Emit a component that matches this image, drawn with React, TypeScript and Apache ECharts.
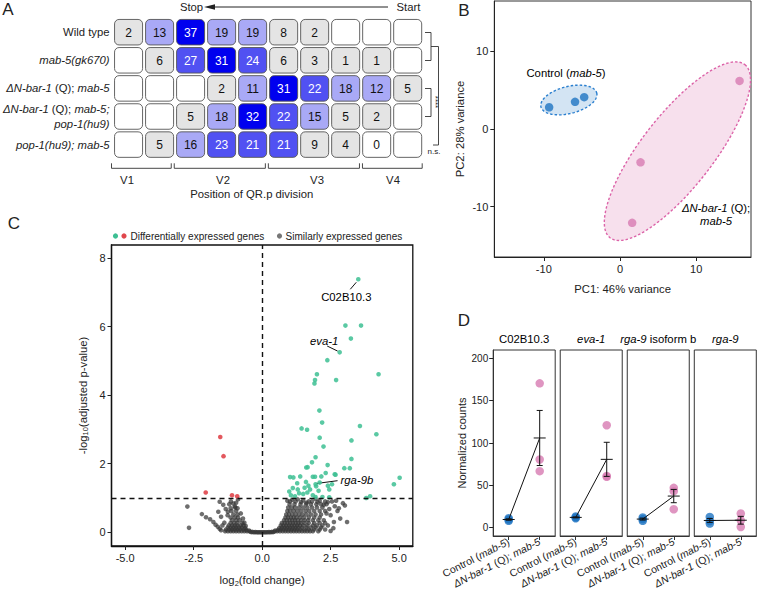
import React, { useEffect, useRef } from 'react';
import * as echarts from 'echarts';

const FONT = '"Liberation Sans", Arial, Helvetica, sans-serif';
const INK = '#222';
const BLUE = '#1f74c2';
const PINK = '#d77ab1';

// ---------------- Panel A: position of QR.p division ----------------
const rowNames = ['Wild type', 'mab-5(gk670)', 'ΔN-bar-1 (Q); mab-5', 'ΔN-bar-1 (Q); mab-5; pop-1(hu9)', 'pop-1(hu9); mab-5'];
const rowLabelRich = [
  '{n|Wild type}',
  '{i|mab-5(gk670)}',
  '{i|ΔN-bar-1}{n| (Q); }{i|mab-5}',
  '{i|ΔN-bar-1}{n| (Q); }{i|mab-5;}\n{i|pop-1(hu9)}',
  '{i|pop-1(hu9); mab-5}',
];
const divisionPositions = ['1', '2', '3', '4', '5', '6', '7', '8', '9', '10'];
const wildTypeCounts = [2, 13, 37, 19, 19, 8, 2, null, null, null];
const mab5Counts = [null, 6, 27, 31, 24, 6, 3, 1, 1, null];
const dNbar1Mab5Counts = [null, null, null, 2, 11, 31, 22, 18, 12, 5];
const dNbar1Mab5Pop1Counts = [null, null, 5, 18, 32, 22, 15, 5, 2, null];
const pop1Mab5Counts = [null, 5, 16, 23, 21, 21, 9, 4, 0, null];
const cellRows = [wildTypeCounts, mab5Counts, dNbar1Mab5Counts, dNbar1Mab5Pop1Counts, pop1Mab5Counts];
const vCellLabels = ['V1', 'V2', 'V3', 'V4'];
const vCellSpans = [[0, 1], [2, 4], [5, 7], [8, 9]];

// ---------------- Panel B: PCA ----------------
const pc1Control = [-9.3, -5.9, -4.7];
const pc2Control = [2.8, 3.5, 4.1];
const pc1Mutant = [15.7, 2.7, 1.6];
const pc2Mutant = [6.2, -4.3, -12.1];
// ellipse: centre x, centre y, half-axis-1 (dx, dy), half-axis-2 (dx, dy), data units
const controlEllipse = [-6.71, 3.74, 3.66, 0.9, 0.43, -1.69];
const mutantEllipse = [7.54, -2.86, 8.85, 11.16, 3.72, -2.85];

// ---------------- Panel C: volcano ----------------
const upGenes = [
  [3.51, 7.38], [3.04, 6.03], [3.61, 6.03], [3.24, 5.65], [2.83, 5.25], [2.38, 5.02], [2.0, 4.61], [2.7, 4.44],
  [1.93, 4.44], [1.91, 4.34], [4.25, 4.61], [2.09, 3.55], [2.19, 3.2], [1.44, 3.03], [1.64, 2.99], [3.57, 3.1],
  [4.17, 2.86], [2.1, 2.76], [3.26, 2.68], [2.24, 2.5], [3.26, 2.14], [1.95, 2.19], [1.82, 2.04], [2.39, 1.96],
  [1.61, 1.89], [1.66, 1.9], [3.0, 1.87], [3.2, 1.87], [2.65, 1.69], [2.68, 1.68], [2.32, 1.73], [2.16, 1.63],
  [1.02, 1.61], [1.14, 1.6], [1.39, 1.63], [1.85, 1.62], [1.93, 1.62], [5.02, 1.59], [4.81, 1.4], [1.6, 1.47],
  [1.12, 1.29], [1.28, 1.43], [1.69, 1.36], [1.97, 1.34], [2.06, 1.21], [2.4, 1.36], [2.45, 1.25], [0.99, 1.19],
  [1.35, 1.14], [1.5, 1.12], [1.65, 1.16], [3.94, 1.05], [3.8, 1.0], [1.95, 1.03], [2.2, 1.03], [2.45, 1.02],
  [1.2, 1.05], [1.75, 1.25], [1.85, 1.08], [2.1, 1.45], [1.3, 1.25], [1.55, 1.3], [1.05, 1.08], [2.55, 1.4],
  [1.95, 1.4],
];
const downGenes = [[-1.53, 2.78], [-1.41, 2.22], [-2.06, 1.16], [-1.1, 1.08], [-0.91, 1.05]];
const otherGenes = [
  // sparse outliers
  [-2.73, 0.75], [-2.67, 0.13], [-2.2, 0.53], [-2.05, 0.44], [-1.9, 0.38], [-1.78, 0.3], [-1.7, 0.22], [-1.62, 0.16],
  [-1.55, 0.1], [-1.5, 0.06], [-1.55, 0.89], [-1.42, 0.8], [-1.33, 0.68], [-1.26, 0.5], [-1.14, 0.9], [-1.05, 0.84],
  [-0.95, 0.86], [-0.9, 0.7], [-0.88, 0.96], [-1.5, 0.45], [-1.6, 0.6], [-1.25, 0.6], [-1.15, 0.7], [-1.0, 0.75],
  [-0.78, 0.55], [-0.7, 0.4], [-0.65, 0.28], [-0.6, 0.18], [-1.38, 0.28], [-1.45, 0.2],
  [2.62, 0.3], [2.75, 0.62], [2.65, 0.76], [2.95, 0.85], [3.02, 0.78], [2.8, 0.7], [2.45, 0.68], [2.25, 0.8],
  [2.1, 0.92], [1.95, 0.97], [2.4, 0.88], [2.55, 0.9], [2.7, 0.92], [2.85, 0.4], [3.1, 0.3], [2.5, 0.5], [2.6, 0.12],
  [2.5, 0.04], [2.4, 0.2], [2.35, 0.55], [0.92, 0.92], [1.1, 0.95], [1.3, 0.96], [1.5, 0.93], [1.7, 0.9],
  // zero line
  [-0.4, 0.005], [-0.3, 0], [-0.2, 0], [-0.1, 0], [0, 0], [0.1, 0], [0.2, 0], [0.3, 0], [0.4, 0.005],
  [-0.35, 0.01], [-0.25, 0.005], [-0.15, 0], [-0.05, 0], [0.05, 0], [0.15, 0], [0.25, 0.005], [0.35, 0.01],
  // dense band rows
  [-1.35, 0.03], [-1.25, 0.03], [-1.15, 0.03], [-1.05, 0.03], [-0.95, 0.03], [-0.85, 0.03], [-0.75, 0.03],
  [-0.65, 0.03], [-0.55, 0.03], [-0.45, 0.02], [0.45, 0.02], [0.55, 0.03], [0.65, 0.03], [0.75, 0.03], [0.85, 0.03],
  [0.95, 0.03], [1.05, 0.03], [1.15, 0.03], [1.25, 0.03], [1.35, 0.03], [1.45, 0.03], [1.55, 0.03], [1.65, 0.03],
  [1.75, 0.03], [1.85, 0.03], [2.05, 0.03],
  [-1.32, 0.08], [-1.2, 0.08], [-1.1, 0.08], [-1.0, 0.08], [-0.9, 0.08], [-0.8, 0.08], [-0.68, 0.08], [-0.58, 0.07],
  [-0.48, 0.05], [0.48, 0.05], [0.58, 0.07], [0.68, 0.08], [0.78, 0.08], [0.88, 0.08], [0.98, 0.08], [1.08, 0.08],
  [1.18, 0.08], [1.28, 0.08], [1.4, 0.08], [1.55, 0.08], [1.7, 0.08], [1.9, 0.08], [2.1, 0.08], [2.3, 0.08],
  [-1.25, 0.14], [-1.15, 0.14], [-1.05, 0.14], [-0.95, 0.14], [-0.85, 0.14], [-0.75, 0.14], [-0.62, 0.12],
  [0.62, 0.12], [0.72, 0.14], [0.82, 0.14], [0.92, 0.14], [1.02, 0.14], [1.12, 0.14], [1.22, 0.14], [1.32, 0.14],
  [1.45, 0.14], [1.62, 0.14], [1.78, 0.14], [1.95, 0.14], [2.15, 0.14],
  [-1.22, 0.2], [-1.1, 0.2], [-1.0, 0.2], [-0.9, 0.2], [-0.78, 0.2], [-0.68, 0.2], [0.68, 0.2], [0.78, 0.2],
  [0.88, 0.2], [0.98, 0.2], [1.08, 0.2], [1.18, 0.2], [1.28, 0.2], [1.38, 0.2], [1.5, 0.2], [1.65, 0.2], [1.85, 0.2],
  [2.0, 0.2], [2.2, 0.2],
  [-1.15, 0.27], [-1.02, 0.27], [-0.9, 0.27], [-0.72, 0.27], [0.72, 0.27], [0.82, 0.27], [0.92, 0.27], [1.02, 0.27],
  [1.12, 0.27], [1.22, 0.27], [1.32, 0.27], [1.42, 0.27], [1.55, 0.27], [1.7, 0.27], [1.9, 0.27], [2.1, 0.27],
  [2.3, 0.27],
  [-1.1, 0.35], [-0.95, 0.35], [-0.82, 0.35], [0.8, 0.35], [0.9, 0.35], [1.0, 0.35], [1.1, 0.35], [1.2, 0.35],
  [1.3, 0.35], [1.42, 0.35], [1.55, 0.35], [1.68, 0.35], [1.85, 0.35], [2.05, 0.35], [2.25, 0.35],
  [-1.15, 0.43], [-1.0, 0.43], [-0.88, 0.43], [0.85, 0.43], [0.95, 0.43], [1.05, 0.43], [1.15, 0.43], [1.25, 0.43],
  [1.38, 0.43], [1.52, 0.43], [1.7, 0.43], [1.9, 0.43], [2.1, 0.43],
  [-1.05, 0.52], [-0.9, 0.52], [0.88, 0.52], [0.98, 0.52], [1.1, 0.52], [1.22, 0.52], [1.35, 0.52], [1.48, 0.52],
  [1.62, 0.52], [1.78, 0.52], [1.95, 0.52], [2.15, 0.52],
  [-1.12, 0.62], [-0.95, 0.62], [0.92, 0.62], [1.02, 0.62], [1.15, 0.62], [1.28, 0.62], [1.42, 0.62], [1.58, 0.62],
  [1.72, 0.62], [1.9, 0.62], [2.1, 0.62], [2.3, 0.62],
  [-0.98, 0.72], [0.95, 0.72], [1.08, 0.72], [1.2, 0.72], [1.35, 0.72], [1.5, 0.72], [1.65, 0.72], [1.82, 0.72],
  [2.0, 0.72], [2.2, 0.72],
  [-1.2, 0.82], [1.0, 0.82], [1.18, 0.82], [1.4, 0.82], [1.6, 0.82], [1.78, 0.82], [1.98, 0.82], [2.15, 0.82],
  [2.35, 0.82],
  [1.02, 0.9], [1.22, 0.9], [1.42, 0.88], [1.62, 0.86], [1.82, 0.9], [2.02, 0.88], [2.3, 0.9],
];
const labeledGenes = ['C02B10.3', 'eva-1', 'rga-9b'];
const labeledGeneX = [3.51, 2.83, 1.95];
const labeledGeneY = [7.38, 5.25, 1.4];

// ---------------- Panel D: normalized counts ----------------
const dGenes = ['C02B10.3', 'eva-1', 'rga-9 isoform b', 'rga-9'];
const dGenesRich = ['{n|C02B10.3}', '{i|eva-1}', '{i|rga-9}{n| isoform b}', '{i|rga-9}'];
const dGroups = ['Control (mab-5)', 'ΔN-bar-1 (Q); mab-5'];
const controlCounts = [[8, 9.5, 11], [11, 12, 13], [8, 10, 12], [4.7, 7.8, 12.6]];
const mutantCounts = [[170.6, 80.5, 66.7], [121, 61, 60], [47, 43, 21.7], [16.6, 8.6, 0.7]];

// ---------------- helpers ----------------
const mean = (a: number[]) => a.reduce((s, v) => s + v, 0) / a.length;
const se = (a: number[]) => {
  const m = mean(a);
  const sd = Math.sqrt(a.reduce((s, v) => s + (v - m) * (v - m), 0) / (a.length - 1));
  return sd / Math.sqrt(a.length);
};
const cellColor = (v: number) => {
  if (v <= 0) return '#ffffff';
  if (v < 10) return '#e4e4e4';
  if (v < 20) return '#a9a9f6';
  if (v < 30) return '#5151f2';
  return '#0000ef';
};

const richBase = (size: number, color = INK) => ({
  n: { fontFamily: FONT, fontSize: size, color, fontWeight: 'normal' },
  i: { fontFamily: FONT, fontSize: size, color, fontStyle: 'italic', fontWeight: 'normal' },
});

const GA = { left: 109.5, top: 18.15, width: 313.7, height: 140.5 };
const GB = { left: 494.3, top: 1, width: 256.7, height: 256 };
const GC = { left: 111.5, top: 245, width: 301.3, height: 302 };
const GD = [0, 1, 2, 3].map((i) => ({ left: 493.2 + i * 67.03, top: 350, width: 62, height: 186 }));

const valueAxisBase = {
  type: 'value',
  splitLine: { show: false },
  axisLine: { show: true, onZero: false, lineStyle: { color: INK, width: 1 } },
  axisTick: { show: true, length: 4, lineStyle: { color: INK, width: 1 } },
  axisLabel: { color: INK, fontFamily: FONT, fontSize: 11, margin: 6 },
};

function buildOption() {
  const grids: any[] = [
    { ...GA, show: false },
    { ...GB, show: true, borderColor: '#333', borderWidth: 1 },
    { ...GC, show: true, borderColor: '#111', borderWidth: 1.3 },
    ...GD.map((g) => ({ ...g, show: true, borderColor: '#333', borderWidth: 1 })),
  ];

  const xAxes: any[] = [
    { gridIndex: 0, type: 'category', data: divisionPositions, show: false },
    {
      ...valueAxisBase, gridIndex: 1, min: -16.5, max: 17.2,
      axisLabel: { ...valueAxisBase.axisLabel, customValues: [-10, 0, 10] },
      axisTick: { ...valueAxisBase.axisTick, customValues: [-10, 0, 10] },
      name: 'PC1: 46% variance', nameLocation: 'middle', nameGap: 26,
      nameTextStyle: { fontFamily: FONT, fontSize: 11.3, color: INK },
    },
    {
      ...valueAxisBase, gridIndex: 2, min: -5.5, max: 5.5,
      axisLine: { ...valueAxisBase.axisLine, lineStyle: { color: '#111', width: 1.3 } },
      axisLabel: { ...valueAxisBase.axisLabel, customValues: [-5, -2.5, 0, 2.5, 5], formatter: (v: number) => v.toFixed(1) },
      axisTick: { ...valueAxisBase.axisTick, customValues: [-5, -2.5, 0, 2.5, 5] },
      name: 'log{sub|2}(fold change)', nameLocation: 'middle', nameGap: 27,
      nameTextStyle: {
        fontFamily: FONT, fontSize: 11.3, color: INK, lineHeight: 14,
        rich: { sub: { fontFamily: FONT, fontSize: 7.5, color: INK, verticalAlign: 'bottom', lineHeight: 14 } },
      },
    },
    ...GD.map((g, i) => ({
      gridIndex: 3 + i, type: 'category', data: dGroups, boundaryGap: true,
      axisLine: { show: true, onZero: false, lineStyle: { color: '#333' } },
      axisTick: { show: true, alignWithLabel: true, length: 4, lineStyle: { color: '#333' } },
      axisLabel: {
        interval: 0, rotate: 27, margin: 5,
        formatter: (v: string) => (v === dGroups[0] ? '{n|Control (}{i|mab-5}{n|)}' : '{i|ΔN-bar-1}{n| (Q); }{i|mab-5}'),
        rich: richBase(10.5),
      },
      splitLine: { show: false },
    })),
  ];

  const yAxes: any[] = [
    {
      gridIndex: 0, type: 'category', data: rowNames, inverse: true,
      axisLine: { show: false }, axisTick: { show: false },
      axisLabel: {
        margin: 3.5, align: 'right', lineHeight: 14.5,
        formatter: (_v: string, i: number) => rowLabelRich[i],
        rich: {
          n: { fontFamily: FONT, fontSize: 11.3, color: INK, lineHeight: 14.5, fontWeight: 'normal' },
          i: { fontFamily: FONT, fontSize: 11.3, color: INK, fontStyle: 'italic', lineHeight: 14.5, fontWeight: 'normal' },
        },
      },
    },
    {
      ...valueAxisBase, gridIndex: 1, min: -16.5, max: 16.5,
      axisLabel: { ...valueAxisBase.axisLabel, customValues: [-10, 0, 10] },
      axisTick: { ...valueAxisBase.axisTick, customValues: [-10, 0, 10] },
      name: 'PC2: 28% variance', nameLocation: 'middle', nameGap: 29,
      nameTextStyle: { fontFamily: FONT, fontSize: 11.3, color: INK },
    },
    {
      ...valueAxisBase, gridIndex: 2, min: -0.4, max: 8.38,
      axisLine: { ...valueAxisBase.axisLine, lineStyle: { color: '#111', width: 1.3 } },
      axisLabel: { ...valueAxisBase.axisLabel, customValues: [0, 2, 4, 6, 8] },
      axisTick: { ...valueAxisBase.axisTick, customValues: [0, 2, 4, 6, 8] },
      name: '-log{sub|10}(adjusted p-value)', nameLocation: 'middle', nameGap: 22,
      nameTextStyle: {
        fontFamily: FONT, fontSize: 11.3, color: INK, lineHeight: 14,
        rich: { sub: { fontFamily: FONT, fontSize: 7.5, color: INK, verticalAlign: 'bottom', lineHeight: 14 } },
      },
    },
    ...GD.map((g, i) => ({
      ...valueAxisBase, gridIndex: 3 + i, min: -10, max: 210,
      axisLine: { show: i === 0, onZero: false, lineStyle: { color: '#333' } },
      axisLabel: { ...valueAxisBase.axisLabel, fontSize: 10, show: i === 0, customValues: [0, 50, 100, 150, 200], margin: 5 },
      axisTick: { ...valueAxisBase.axisTick, show: i === 0, customValues: [0, 50, 100, 150, 200] },
      name: i === 0 ? 'Normalized counts' : '', nameLocation: 'middle', nameGap: 26,
      nameTextStyle: { fontFamily: FONT, fontSize: 11, color: INK },
    })),
  ];

  const cellData: any[] = [];
  cellRows.forEach((row, r) => row.forEach((v, c) => cellData.push([c, r, v == null ? -1 : v])));

  const ellipseSeries = (params: number[], fill: string, stroke: string) => ({
    type: 'custom', xAxisIndex: 1, yAxisIndex: 1, z: 1, silent: true,
    data: [params],
    renderItem: (_p: any, api: any) => {
      const cx = api.value(0), cy = api.value(1), ax = api.value(2), ay = api.value(3), bx = api.value(4), by = api.value(5);
      const pts: number[][] = [];
      for (let k = 0; k < 96; k++) {
        const t = (2 * Math.PI * k) / 96;
        pts.push(api.coord([cx + ax * Math.cos(t) + bx * Math.sin(t), cy + ay * Math.cos(t) + by * Math.sin(t)]));
      }
      return { type: 'polygon', shape: { points: pts }, style: { fill, stroke, lineWidth: 1.4, lineDash: [2.5, 2] } };
    },
  });

  const series: any[] = [
    {
      type: 'custom', xAxisIndex: 0, yAxisIndex: 0, data: cellData,
      renderItem: (_p: any, api: any) => {
        const v = api.value(2);
        const c = api.coord([api.value(0), api.value(1)]);
        const s = api.size([1, 1]);
        const w = s[0] - 3, h = s[1] - 2.6;
        const children: any[] = [
          { type: 'rect', shape: { x: c[0] - w / 2, y: c[1] - h / 2, width: w, height: h, r: 4.5 }, style: { fill: cellColor(v), stroke: '#555', lineWidth: 0.9 } },
        ];
        if (v >= 0) {
          children.push({
            type: 'text', x: c[0], y: c[1] + 0.5,
            style: { text: String(v), align: 'center', verticalAlign: 'middle', fontFamily: FONT, fontSize: 12, fill: v >= 20 ? '#ffffff' : '#111' },
          });
        }
        return { type: 'group', children };
      },
    },
    ellipseSeries(controlEllipse, '#d3e4f3', '#2a7fcf'),
    ellipseSeries(mutantEllipse, '#f7e0ed', '#dc63a8'),
    {
      type: 'scatter', xAxisIndex: 1, yAxisIndex: 1, z: 3, symbolSize: 8.5,
      itemStyle: { color: BLUE }, data: pc1Control.map((x, i) => [x, pc2Control[i]]),
    },
    {
      type: 'scatter', xAxisIndex: 1, yAxisIndex: 1, z: 3, symbolSize: 8.5,
      itemStyle: { color: PINK }, data: pc1Mutant.map((x, i) => [x, pc2Mutant[i]]),
    },
    {
      type: 'scatter', xAxisIndex: 2, yAxisIndex: 2, symbolSize: 4.6,
      itemStyle: { color: '#363636', opacity: 0.72 }, data: otherGenes,
      markLine: {
        silent: true, symbol: ['none', 'none'], label: { show: false },
        lineStyle: { color: '#111', width: 1.4, type: [5, 4] },
        data: [{ xAxis: 0 }, { yAxis: 1 }],
      },
    },
    {
      type: 'scatter', xAxisIndex: 2, yAxisIndex: 2, symbolSize: 4.6,
      itemStyle: { color: '#e0464c', opacity: 0.9 }, data: downGenes,
    },
    {
      type: 'scatter', xAxisIndex: 2, yAxisIndex: 2, symbolSize: 4.6,
      itemStyle: { color: '#3dbf93', opacity: 0.85 }, data: upGenes,
    },
  ];

  GD.forEach((_g, i) => {
    const ax = 3 + i;
    const c = controlCounts[i];
    const m = mutantCounts[i];
    series.push(
      { type: 'scatter', xAxisIndex: ax, yAxisIndex: ax, symbolSize: 8.5, z: 2, itemStyle: { color: BLUE }, data: c.map((v) => [0, v]) },
      { type: 'scatter', xAxisIndex: ax, yAxisIndex: ax, symbolSize: 8.5, z: 2, itemStyle: { color: PINK }, data: m.map((v) => [1, v]) },
      {
        type: 'line', xAxisIndex: ax, yAxisIndex: ax, z: 3, symbol: 'none',
        lineStyle: { color: '#111', width: 1 }, data: [[0, mean(c)], [1, mean(m)]],
      },
      {
        type: 'custom', xAxisIndex: ax, yAxisIndex: ax, z: 4,
        data: [[0, mean(c), mean(c) - se(c), mean(c) + se(c)], [1, mean(m), mean(m) - se(m), mean(m) + se(m)]],
        renderItem: (_p: any, api: any) => {
          const p = api.coord([api.value(0), api.value(1)]);
          const lo = api.coord([api.value(0), api.value(2)])[1];
          const hi = api.coord([api.value(0), api.value(3)])[1];
          const st = { stroke: '#111', lineWidth: 1 };
          return {
            type: 'group',
            children: [
              { type: 'line', shape: { x1: p[0], y1: lo, x2: p[0], y2: hi }, style: st },
              { type: 'line', shape: { x1: p[0] - 3, y1: lo, x2: p[0] + 3, y2: lo }, style: st },
              { type: 'line', shape: { x1: p[0] - 3, y1: hi, x2: p[0] + 3, y2: hi }, style: st },
              { type: 'line', shape: { x1: p[0] - 6, y1: p[1], x2: p[0] + 6, y2: p[1] }, style: st },
            ],
          };
        },
      },
    );
  });

  return { animation: false, backgroundColor: '#ffffff', grid: grids, xAxis: xAxes, yAxis: yAxes, series };
}

function txt(text: string, x: number, y: number, size: number, extra: any = {}) {
  return {
    type: 'text', x, y, silent: true,
    style: { text, fontFamily: FONT, fontSize: size, fontWeight: 'normal', fill: INK, align: 'center', verticalAlign: 'middle', ...extra },
  };
}
const ln = (pts: number[][], w = 0.9, color = '#333') => ({
  type: 'polyline', silent: true, shape: { points: pts }, style: { stroke: color, lineWidth: w, fill: null },
});

function buildGraphics(chart: any) {
  const g: any[] = [];
  // panel letters
  g.push(txt('A', 8, 9, 17), txt('B', 464, 10, 17), txt('C', 14, 223, 17), txt('D', 464, 320, 17));

  // Panel A header arrow
  g.push(txt('Stop', 191.5, 7, 11.3), txt('Start', 408.5, 7, 11.3));
  g.push(ln([[213, 7], [388, 7]], 1, INK));
  g.push({ type: 'polygon', silent: true, shape: { points: [[204, 7], [215, 4.2], [215, 9.8]] }, style: { fill: INK } });

  // brackets
  g.push(ln([[425, 32.5], [431, 32.5], [431, 60.5], [425, 60.5]]));
  g.push(ln([[431, 46.5], [438.5, 46.5], [438.5, 145], [433, 145]]));
  g.push(ln([[425, 88.5], [431, 88.5], [431, 116.5], [425, 116.5]]));
  g.push({ ...txt('****', 435, 102, 8), rotation: -Math.PI / 2 });
  g.push(txt('n.s.', 434, 151.5, 8));

  // V cell brackets
  const cw = GA.width / divisionPositions.length;
  const vLabelX = [127, 223, 317, 393];
  vCellSpans.forEach(([s, e], k) => {
    const x0 = GA.left + s * cw + 2;
    const x1 = GA.left + (e + 1) * cw - 1;
    g.push(ln([[x0, 163.3], [x0, 168.3], [x1, 168.3], [x1, 163.3]], 0.9, '#333'));
    g.push(txt(vCellLabels[k], vLabelX[k], 179.5, 11.3));
  });
  g.push(txt('Position of QR.p division', 251.7, 194, 11.3));

  // Panel B annotations
  g.push({
    type: 'text', x: 566, y: 73, silent: true,
    style: {
      text: '{n|Control (}{i|mab-5}{n|)}', align: 'center', verticalAlign: 'middle',
      rich: richBase(11.3, BLUE),
    },
  });
  g.push({
    type: 'text', x: 716, y: 214, silent: true,
    style: {
      text: '{i|ΔN-bar-1}{n| (Q);}\n{i|mab-5}', align: 'center', verticalAlign: 'middle', lineHeight: 13,
      rich: {
        n: { fontFamily: FONT, fontSize: 11.3, color: PINK, lineHeight: 13, fontWeight: 'normal' },
        i: { fontFamily: FONT, fontSize: 11.3, color: PINK, fontStyle: 'italic', lineHeight: 13, fontWeight: 'normal' },
      },
    },
  });

  // Panel C legend
  g.push({ type: 'circle', silent: true, shape: { cx: 115.5, cy: 236, r: 2.6 }, style: { fill: '#3dbf93' } });
  g.push({ type: 'circle', silent: true, shape: { cx: 124, cy: 236, r: 2.6 }, style: { fill: '#e0464c' } });
  g.push(txt('Differentially expressed genes', 130.5, 236.5, 10, { align: 'left' }));
  g.push({ type: 'circle', silent: true, shape: { cx: 279.5, cy: 236, r: 2.6 }, style: { fill: '#777' } });
  g.push(txt('Similarly expressed genes', 285.5, 236.5, 10, { align: 'left' }));

  // Panel C gene labels (anchored to their points)
  const labelLayout = [
    { text: '{n|C02B10.3}', dx: -12, dy: 18, align: 'center', l: [[-2, 3], [-8, 10]] },
    { text: '{i|eva-1}', dx: -15.5, dy: -11, align: 'center', l: [[-2, -1.2], [-12.5, -6.3]] },
    { text: '{i|rga-9b}', dx: 25, dy: -4, align: 'left', l: [[1, -0.8], [22, -3.6]] },
  ];
  labeledGenes.forEach((_name, k) => {
    const p = chart.convertToPixel({ xAxisIndex: 2, yAxisIndex: 2 }, [labeledGeneX[k], labeledGeneY[k]]);
    const L = labelLayout[k];
    g.push(ln([[p[0] + L.l[0][0], p[1] + L.l[0][1]], [p[0] + L.l[1][0], p[1] + L.l[1][1]]], 1, '#111'));
    g.push({
      type: 'text', x: p[0] + L.dx, y: p[1] + L.dy, silent: true,
      style: { text: L.text, align: L.align, verticalAlign: 'middle', rich: richBase(11.3) },
    });
  });

  // Panel D facet titles
  GD.forEach((gr, i) => {
    g.push({
      type: 'text', x: gr.left + gr.width / 2, y: 339, silent: true,
      style: { text: dGenesRich[i], align: 'center', verticalAlign: 'middle', rich: richBase(11.3) },
    });
  });
  return g;
}

export default function App() {
  const ref = useRef<HTMLDivElement>(null);
  useEffect(() => {
    const chart = echarts.init(ref.current as HTMLDivElement, null, { renderer: 'svg' });
    chart.setOption(buildOption());
    chart.setOption({ graphic: buildGraphics(chart) });
    return () => chart.dispose();
  }, []);
  return (
    <div
      ref={ref}
      style={{ position: 'absolute', left: 0, top: 0, width: 757, height: 592, background: '#fff' }}
    />
  );
}
